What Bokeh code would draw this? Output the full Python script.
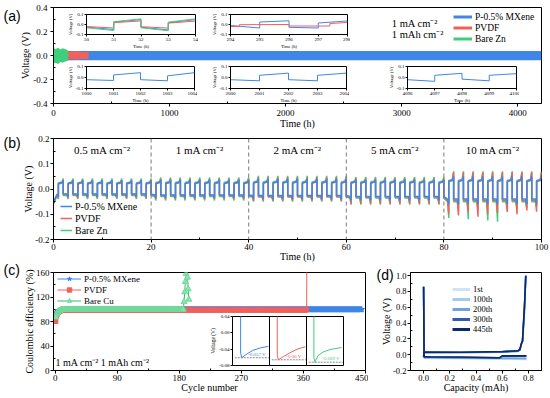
from bokeh.plotting import figure
from bokeh.models import (GridBox, Range1d, FixedTicker, PrintfTickFormatter,
                          Legend, LegendItem, Label, Span)
from bokeh.core.properties import value
from bokeh.embed import file_html
from bokeh.resources import INLINE

SERIF = "Liberation Serif"
SANS = "Liberation Sans"
BLUE = "#3f86e8"
RED = "#f2605c"
GREEN = "#3fcf7c"
NAN = float("nan")

# ------------------------------------------------------------------ data (a)
a_names = ["P-0.5% MXene", "PVDF", "Bare Zn"]
a_xticks = [0, 1000, 2000, 3000, 4000]
a_xminor = [500, 1500, 2500, 3500]
a_yticks = [-0.4, -0.2, 0.0, 0.2, 0.4]
a_yminor = [-0.3, -0.1, 0.1, 0.3]
a_blue_t = [0, 200, 500, 1000, 1500, 2000, 2500, 3000, 3500, 4000, 4205]
a_blue_hi = [0.040, 0.038, 0.037, 0.038, 0.037, 0.038, 0.037, 0.038, 0.037, 0.038, 0.038]
a_blue_lo = [-0.042, -0.040, -0.039, -0.040, -0.039, -0.040, -0.039, -0.040, -0.040, -0.040, -0.040]
a_red_t = [0, 60, 110, 150, 200, 250, 300, 305]
a_red_hi = [0.040, 0.036, 0.042, 0.032, 0.035, 0.030, 0.030, 0.0]
a_red_lo = [-0.040, -0.036, -0.040, -0.032, -0.034, -0.030, -0.030, 0.0]
a_green_t = [0, 20, 40, 60, 80, 100, 120, 130]
a_green_hi = [0.060, 0.055, 0.065, 0.050, 0.060, 0.055, 0.045, 0.0]
a_green_lo = [-0.065, -0.060, -0.070, -0.055, -0.060, -0.050, -0.045, 0.0]

# insets of (a): hour windows and voltage traces
ins_yticks = [-0.1, 0.0, 0.1]
ins1_t = [50, 51, 51, 52, 52, 53, 53, 54]
ins1_blue = [-0.027, -0.050, 0.024, 0.049, -0.027, -0.055, 0.018, 0.049]
ins1_red = [-0.020, -0.035, 0.018, 0.036, -0.022, -0.036, 0.014, 0.034]
ins1_green = [-0.033, -0.060, 0.028, 0.056, -0.033, -0.062, 0.024, 0.056]
ins2_t = [294, 295, 295, 296, 296, 297, 297, 298]
ins2_blue = [-0.010, -0.035, 0.025, 0.037, -0.028, -0.035, 0.015, 0.035]
ins2_red_t = [294, 294.3, 294.3, 296, 296, 297.4, 297.4, 298]
ins2_red = [-0.020, -0.020, -0.002, 0.000, -0.015, -0.015, 0.010, 0.020]
ins3_t = [1000, 1001, 1001, 1002, 1002, 1003, 1003, 1004]
ins3_blue = [-0.020, -0.027, 0.023, 0.044, -0.020, -0.030, 0.015, 0.044]
ins4_t = [2000, 2001, 2001, 2002, 2002, 2003, 2003, 2004]
ins4_blue = [-0.020, -0.030, 0.020, 0.040, -0.020, -0.030, 0.020, 0.040]
ins5_t = [4096, 4097, 4097, 4098, 4098, 4099, 4099, 4100]
ins5_blue = [-0.020, -0.035, 0.020, 0.038, -0.015, -0.030, 0.020, 0.035]

# ------------------------------------------------------------------ data (b)
b_names = ["P-0.5% MXene", "PVDF", "Bare Zn"]
b_segments = ["0.5 mA cm\u207b\u00b2", "1 mA cm\u207b\u00b2", "2 mA cm\u207b\u00b2",
              "5 mA cm\u207b\u00b2", "10 mA cm\u207b\u00b2"]
b_seg_start = [0, 20, 40, 60, 80]
b_dividers = [20, 40, 60, 80]
b_cycles = 10
b_half = 1.0
b_xticks = [0, 20, 40, 60, 80, 100]
b_xminor = [10, 30, 50, 70, 90]
b_yticks = [-0.2, -0.1, 0.0, 0.1, 0.2]
b_yminor = [-0.15, -0.05, 0.05, 0.15]
# per segment: plateau / end-peak of stripping, plateau / end-dip of plating
b_blue = dict(start=-0.050, pos=[0.022, 0.022, 0.024, 0.024, 0.030],
              pk=[0.034, 0.036, 0.040, 0.036, 0.050],
              neg=[-0.020, -0.024, -0.026, -0.030, -0.040],
              nk=[-0.030, -0.034, -0.040, -0.045, -0.060])
b_red = dict(start=-0.055, pos=[0.020, 0.022, 0.024, 0.024, 0.032],
             pk=[0.036, 0.040, 0.046, 0.042, 0.066],
             neg=[-0.022, -0.026, -0.030, -0.032, -0.045],
             nk=[-0.036, -0.040, -0.046, -0.058, -0.095])
b_green = dict(start=-0.060, pos=[0.024, 0.026, 0.028, 0.028, 0.034],
               pk=[0.042, 0.046, 0.052, 0.048, 0.070],
               neg=[-0.026, -0.030, -0.032, -0.036, -0.050],
               nk=[-0.040, -0.046, -0.050, -0.062, -0.110])
b_red_dips10 = [-0.100, -0.105, -0.090, -0.110, -0.100, -0.095, -0.090, -0.100, -0.085, -0.090]
b_green_dips10 = [-0.115, -0.090, -0.120, -0.085, -0.125, -0.130, -0.090, -0.080, -0.075, -0.070]

# ------------------------------------------------------------------ data (c)
c_names = ["P-0.5% MXene", "PVDF", "Bare Cu"]
c_xticks = [0, 90, 180, 270, 360, 450]
c_xminor = [45, 135, 225, 315, 405]
c_yticks = [0, 40, 80, 120, 160]
c_yminor = [20, 60, 100, 140]
c_blue_start = [91.0, 94.0, 95.5, 96.5, 97.2, 97.7, 98.1, 98.4, 98.7, 98.9, 99.1, 99.2, 99.3, 99.4, 99.5]
c_blue_plateau = 99.6
c_blue_last = 445
c_red_start = [80.0, 88.0, 91.5, 93.5, 95.0, 96.0, 96.8, 97.3, 97.7, 98.0, 98.2, 98.4, 98.5, 98.6, 98.8]
c_red_plateau = 99.0
c_red_last = 365
c_red_fail = [300.0]
c_green_start = [87.0, 92.0, 94.5, 96.0, 97.0, 97.7, 98.2, 98.6, 98.9, 99.1, 99.3, 99.4, 99.5, 99.6, 99.6]
c_green_plateau = 99.7
c_green_last = 186
c_green_fail = [112.0, 128.0, 145.0, 158.0, 175.0, 152.0, 133.0, 116.0]
# inset of (c): three sub-panels (0 blue, 1 red, 2 green), local x in [0, 1]
ci_yticks = [-0.08, -0.04, 0.0, 0.04]
ci_blue_x = [0.22, 0.22, 0.25, 0.40, 0.55, 0.75, 0.97]
ci_blue_y = [0.05, -0.050, -0.061, -0.051, -0.043, -0.037, -0.033]
ci_red_x = [0.21, 0.21, 0.24, 0.38, 0.55, 0.75, 0.97]
ci_red_y = [0.05, -0.055, -0.066, -0.058, -0.049, -0.040, -0.034]
ci_green_x = [0.20, 0.20, 0.23, 0.31, 0.45, 0.63, 0.95]
ci_green_y = [0.05, -0.060, -0.072, -0.056, -0.047, -0.041, -0.036]
ci_min_labels = ["-0.057 V", "-0.06 V", "-0.069 V"]
ci_min_values = [-0.061, -0.066, -0.072]

# ------------------------------------------------------------------ data (d)
d_labels = ["1st", "100th", "200th", "300th", "445th"]
d_colors = ["#cfe2f6", "#a6c9ee", "#6fa2de", "#2f5db0", "#0b2a6b"]
d_xticks = [0.0, 0.2, 0.4, 0.6, 0.8]
d_xminor = [-0.1, 0.1, 0.3, 0.5, 0.7, 0.9]
d_yticks = [-0.2, 0.0, 0.2, 0.4, 0.6, 0.8, 1.0]
d_yminor = [-0.1, 0.1, 0.3, 0.5, 0.7, 0.9]
d_plate_cap = [0.0, 0.004, 0.05, 0.30, 0.58, 0.60, 0.785]
d_plate_v = [
    [0.86, -0.045, -0.046, -0.050, -0.055, -0.056, -0.060],
    [0.86, -0.040, -0.041, -0.045, -0.050, -0.051, -0.055],
    [0.86, -0.035, -0.036, -0.040, -0.045, -0.042, -0.046],
    [0.86, -0.030, -0.031, -0.035, -0.040, -0.020, -0.020],
    [0.86, -0.025, -0.026, -0.030, -0.038, -0.015, -0.015],
]
d_strip_cap = [0.0, 0.004, 0.30, 0.60, 0.72, 0.735, 0.745, 0.755, 0.77, 0.78]
d_strip_v = [
    [-0.030, 0.020, 0.025, 0.030, 0.040, 0.060, 0.120, 0.160, 0.50, 1.00],
    [-0.028, 0.022, 0.026, 0.032, 0.042, 0.060, 0.125, 0.165, 0.55, 1.00],
    [-0.026, 0.025, 0.028, 0.034, 0.045, 0.060, 0.130, 0.170, 0.58, 1.00],
    [-0.025, 0.030, 0.030, 0.036, 0.048, 0.062, 0.130, 0.170, 0.60, 1.00],
    [-0.025, 0.035, 0.031, 0.040, 0.050, 0.065, 0.135, 0.175, 0.62, 1.00],
]

# ------------------------------------------------------------------ helpers
class Frame:
    def __init__(self, fx0, fy0, fx1, fy1, xr, yr):
        self.fx0, self.fy0, self.fx1, self.fy1 = fx0, fy0, fx1, fy1
        self.xr, self.yr = xr, yr

    def dx(self, X):
        return self.xr[0] + (X - self.fx0) / (self.fx1 - self.fx0) * (self.xr[1] - self.xr[0])

    def dy(self, Y):
        return self.yr[1] - (Y - self.fy0) / (self.fy1 - self.fy0) * (self.yr[1] - self.yr[0])


def make_fig(box, frame, xt, xm, yt, ym, yfmt=None, tick_px="9px", lab_px="10px",
             t_out=3, m_in=2, lab_standoff=0, tick_standoff=2, xaxis=True):
    X0, Y0, W, H = box
    p = figure(width=W, height=H, title=None,
               x_range=Range1d(*frame.xr), y_range=Range1d(*frame.yr),
               output_backend="svg", toolbar_location=None,
               min_border_left=frame.fx0 - X0, min_border_right=X0 + W - frame.fx1,
               min_border_top=frame.fy0 - Y0, min_border_bottom=Y0 + H - frame.fy1,
               border_fill_color=None, background_fill_color="white",
               outline_line_color="black", outline_line_width=1)
    p.grid.visible = False
    p.xaxis.ticker = FixedTicker(ticks=xt, minor_ticks=xm)
    p.yaxis.ticker = FixedTicker(ticks=yt, minor_ticks=ym)
    if yfmt:
        p.yaxis.formatter = PrintfTickFormatter(format=yfmt)
    for ax in (p.xaxis[0], p.yaxis[0]):
        ax.major_label_text_font = SERIF
        ax.major_label_text_font_size = tick_px
        ax.major_label_text_color = "black"
        ax.axis_label_text_font = SERIF
        ax.axis_label_text_font_size = lab_px
        ax.axis_label_text_font_style = "normal"
        ax.axis_label_text_color = "black"
        ax.axis_label_standoff = lab_standoff
        ax.major_label_standoff = tick_standoff
        ax.major_tick_out = t_out
        ax.major_tick_in = 0
        ax.minor_tick_out = 0
        ax.minor_tick_in = m_in
        ax.axis_line_color = "black"
        ax.major_tick_line_color = "black"
        ax.minor_tick_line_color = "black"
    p.xaxis.visible = xaxis
    return p


def text_label(p, fr, X, Y, text, size, align="left", color="black", font=SERIF):
    p.add_layout(Label(x=fr.dx(X), y=fr.dy(Y), text=text, text_font=font,
                       text_font_size=size, text_align=align, text_baseline="middle",
                       text_color=color))


def make_legend(items, fr, X_left, Y_top, n_rows, row_h, glyph_w, size="9.5px"):
    lg = Legend(items=items, border_line_color=None, background_fill_alpha=0,
                padding=0, margin=0, spacing=0, label_standoff=3,
                glyph_width=glyph_w, glyph_height=row_h, label_height=row_h,
                label_text_font=SERIF, label_text_font_size=size, label_text_color="black")
    legend_bottom = Y_top + n_rows * row_h
    lg.location = (int(X_left - fr.fx0), int(fr.fy1 - legend_bottom))
    return lg


children = []


def place(p, box):
    X0, Y0, W, H = box
    children.append((p, Y0, X0, H, W))


def panel_tag(text, X, Y):
    box = (X, Y - 12, 30, 24)
    p = figure(width=30, height=24, title=None, x_range=Range1d(0, 1), y_range=Range1d(0, 1),
               x_axis_type=None, y_axis_type=None, output_backend="svg", toolbar_location=None,
               min_border=0, border_fill_color=None, background_fill_color=None,
               outline_line_color=None)
    p.grid.visible = False
    p.text(x=[0.0], y=[0.5], text=[text], text_font=value(SANS), text_font_size=value("14px"),
           text_align="left", text_baseline="middle", text_color="black")
    return p, box


# ------------------------------------------------------------------ panel (a)
fa = Frame(53, 7, 542, 103, (0, 4205), (-0.4, 0.4))
box_a = (0, 0, 550, 134)
pa = make_fig(box_a, fa, a_xticks, a_xminor, a_yticks, a_yminor, yfmt="%.1f",
              tick_standoff=3, lab_standoff=-1)
pa.xaxis.axis_label = "Time (h)"
pa.yaxis.axis_label = "Voltage (V)"
pa.varea(x=a_blue_t, y1=a_blue_lo, y2=a_blue_hi, color=BLUE)
pa.varea(x=a_red_t, y1=a_red_lo, y2=a_red_hi, color=RED)
pa.varea(x=a_green_t, y1=a_green_lo, y2=a_green_hi, color=GREEN)
la = [pa.line(x=[NAN], y=[NAN], color=c, line_width=3) for c in (BLUE, RED, GREEN)]
pa.add_layout(make_legend([LegendItem(label=n, renderers=[r]) for n, r in zip(a_names, la)],
                          fa, 453, 11, 3, 11, 19, "9.5px"))
text_label(pa, fa, 392, 23, "1 mA cm\u207b\u00b2", "10.5px")
text_label(pa, fa, 392, 34, "1 mAh cm\u207b\u00b2", "10.5px")
place(pa, box_a)

# ------------------------------------------------------------------ panel (b)
fb = Frame(53, 138, 541, 241, (0, 100), (-0.2, 0.2))
box_b = (0, 134, 550, 130)
pb = make_fig(box_b, fb, b_xticks, b_xminor, b_yticks, b_yminor, yfmt="%.1f",
              tick_standoff=1, lab_standoff=-2)
pb.xaxis.axis_label = "Time (h)"
pb.yaxis.axis_label = "Voltage (V)"


def b_wave(d, dips10=None):
    t, v = [0.0], [d["start"]]
    for s, ts in enumerate(b_seg_start):
        for c in range(b_cycles):
            t0 = ts + c * 2 * b_half
            nk = dips10[c] if (dips10 is not None and s == 4) else d["nk"][s]
            t += [t0 + 0.75 * b_half, t0 + b_half, t0 + b_half,
                  t0 + 1.75 * b_half, t0 + 2 * b_half, t0 + 2 * b_half]
            v += [d["neg"][s], nk, d["pos"][s], d["pos"][s] + 0.004, d["pk"][s],
                  d["neg"][s] if not (s == 4 and c == 9) else d["pk"][s]]
    return t, v


for xv in b_dividers:
    pb.add_layout(Span(location=xv, dimension="height", line_color="#7a7a7a",
                       line_dash="4 3", line_width=1))
tg, vg = b_wave(b_green, b_green_dips10)
tr, vr = b_wave(b_red, b_red_dips10)
tb, vb = b_wave(b_blue)
rg = pb.line(tg, vg, color=GREEN, line_width=1.5)
rr = pb.line(tr, vr, color=RED, line_width=1.5)
rb = pb.line(tb, vb, color=BLUE, line_width=1.5)
pb.add_layout(make_legend([LegendItem(label=n, renderers=[r]) for n, r in zip(b_names, [rb, rr, rg])],
                          fb, 60, 202, 3, 12, 12, "10px"))
for ts, lab in zip(b_seg_start, b_segments):
    pb.add_layout(Label(x=ts + 10, y=fb.dy(150), text=lab, text_font=SERIF, text_font_size="11px",
                        text_align="center", text_baseline="middle", text_color="black"))
place(pb, box_b)

# ------------------------------------------------------------------ panel (c)
fc = Frame(53, 268, 365, 373, (-2.5, 450.5), (0, 160))
box_c = (0, 264, 368, 134)
pc = make_fig(box_c, fc, c_xticks, c_xminor, c_yticks, c_yminor,
              tick_standoff=1, lab_standoff=-2)
pc.xaxis.axis_label = "Cycle number"
pc.yaxis.axis_label = "Coulombic efficiency (%)"


def ce(start, plateau, last, fail=()):
    y = list(start) + [plateau] * (last - len(start)) + list(fail)
    return list(range(1, len(y) + 1)), y


cxb, cyb = ce(c_blue_start, c_blue_plateau, c_blue_last)
cxr, cyr = ce(c_red_start, c_red_plateau, c_red_last, c_red_fail)
cxg, cyg = ce(c_green_start, c_green_plateau, c_green_last, c_green_fail)
lb = pc.line(cxb, cyb, color=BLUE, line_width=1)
sb = pc.scatter(cxb, cyb, marker="star", size=6, fill_color=BLUE, line_color=BLUE)
lr = pc.line(cxr, cyr, color=RED, line_width=1)
sr = pc.scatter(cxr, cyr, marker="square", size=4, fill_color=RED, line_color=RED)
lg_ = pc.line(cxg, cyg, color="#2fbf6a", line_width=1)
sg = pc.scatter(cxg, cyg, marker="triangle", size=6, fill_color="#8fe3b0", line_color="#6fd89a")
pc.add_layout(make_legend([LegendItem(label=c_names[0], renderers=[lb, sb]),
                           LegendItem(label=c_names[1], renderers=[lr, sr]),
                           LegendItem(label=c_names[2], renderers=[lg_, sg])],
                          fc, 57, 276, 3, 11, 24, "9px"))
text_label(pc, fc, 55, 364, "1 mA cm\u207b\u00b2  1 mAh cm\u207b\u00b2", "10px")
place(pc, box_c)

# ------------------------------------------------------------------ panel (d)
fd = Frame(410, 272, 543, 370, (-0.1, 0.9), (-0.2, 1.04))
box_d = (368, 264, 182, 134)
pd = make_fig(box_d, fd, d_xticks, d_xminor, d_yticks, d_yminor, yfmt="%.1f",
              tick_px="8.5px", tick_standoff=1, lab_standoff=-2)
pd.xaxis.formatter = PrintfTickFormatter(format="%.1f")
pd.xaxis.axis_label = "Capacity (mAh)"
pd.yaxis.axis_label = "Voltage (V)"
d_items = []
for lab, col, pv, sv in zip(d_labels, d_colors, d_plate_v, d_strip_v):
    pd.line(d_plate_cap, pv, color=col, line_width=1.6)
    pd.line(d_strip_cap, sv, color=col, line_width=1.6)
    lr_ = pd.line(x=[NAN], y=[NAN], color=col, line_width=3)
    d_items.append(LegendItem(label=lab, renderers=[lr_]))
pd.add_layout(make_legend(d_items, fd, 452, 284, 5, 10, 18, "8.5px"))
place(pd, box_d)


# ------------------------------------------------------------------ insets (a)
def make_inset(fx0, fy0, fx1, fy1, xr, yr, xt, yt, yfmt, left=24, bottom=16):
    fr = Frame(fx0, fy0, fx1, fy1, xr, yr)
    box = (fx0 - left, fy0 - 2, (fx1 - fx0) + left + 3, (fy1 - fy0) + 2 + bottom)
    p = make_fig(box, fr, xt, [], yt, [], yfmt=yfmt, tick_px="5px", lab_px="4.6px",
                 t_out=2, m_in=0, lab_standoff=0, tick_standoff=1)
    p.xaxis.axis_label = "Time (h)"
    p.yaxis.axis_label = "Voltage (V)"
    return p, fr, box


inset_specs = [
    (86, 14, 195, 35, ins1_t, [(ins1_blue, BLUE, ins1_t), (ins1_red, RED, ins1_t), (ins1_green, GREEN, ins1_t)]),
    (230, 14, 347, 35, ins2_t, [(ins2_blue, BLUE, ins2_t), (ins2_red, RED, ins2_red_t)]),
    (86, 66, 194, 89, ins3_t, [(ins3_blue, BLUE, ins3_t)]),
    (230, 66, 346, 89, ins4_t, [(ins4_blue, BLUE, ins4_t)]),
    (407, 66, 516, 89, ins5_t, [(ins5_blue, BLUE, ins5_t)]),
]
for fx0, fy0, fx1, fy1, tt, traces in inset_specs:
    xt = sorted(set(int(t) for t in tt))
    p, fr, box = make_inset(fx0, fy0, fx1, fy1, (tt[0], tt[-1]), (-0.1, 0.1), xt, ins_yticks, "%.1f")
    for vv, col, ts in traces:
        p.line(ts, vv, color=col, line_width=1)
    place(p, box)

# ------------------------------------------------------------------ inset (c)
fci = Frame(232, 316, 343, 365, (0, 3), (-0.08, 0.04))
box_ci = (205, 314, 141, 53)
pci = make_fig(box_ci, fci, [0, 1, 2, 3], [], ci_yticks, [], yfmt="%.2f", tick_px="5px",
               lab_px="5.5px", t_out=2, m_in=0, lab_standoff=0, tick_standoff=1, xaxis=False)
pci.yaxis.axis_label = "Voltage (V)"
for k in (1, 2):
    pci.add_layout(Span(location=k, dimension="height", line_color="black", line_width=1))
for k, (xs, ys, col) in enumerate([(ci_blue_x, ci_blue_y, BLUE), (ci_red_x, ci_red_y, RED),
                                   (ci_green_x, ci_green_y, GREEN)]):
    pci.line([k + 0.06, k + 0.98], [ci_min_values[k]] * 2, color="#8a8a8a", line_dash="2 1", line_width=1)
    pci.line([k + x for x in xs], ys, color=col, line_width=1)
    pci.add_layout(Label(x=k + 0.66, y=ci_min_values[k] + 0.009, text=ci_min_labels[k], text_font=SERIF,
                         text_font_size="5px", text_align="center", text_baseline="middle",
                         text_color=col))
place(pci, box_ci)

# ------------------------------------------------------------------ panel tags
for txt, X, Y in [("(a)", 3, 12), ("(b)", 3, 142), ("(c)", 3, 269), ("(d)", 376, 274)]:
    tp, tbox = panel_tag(txt, X, Y)
    place(tp, tbox)

layout = GridBox(children=children, rows="1px", cols="1px")
open("out.html", "w").write(file_html(layout, INLINE))
